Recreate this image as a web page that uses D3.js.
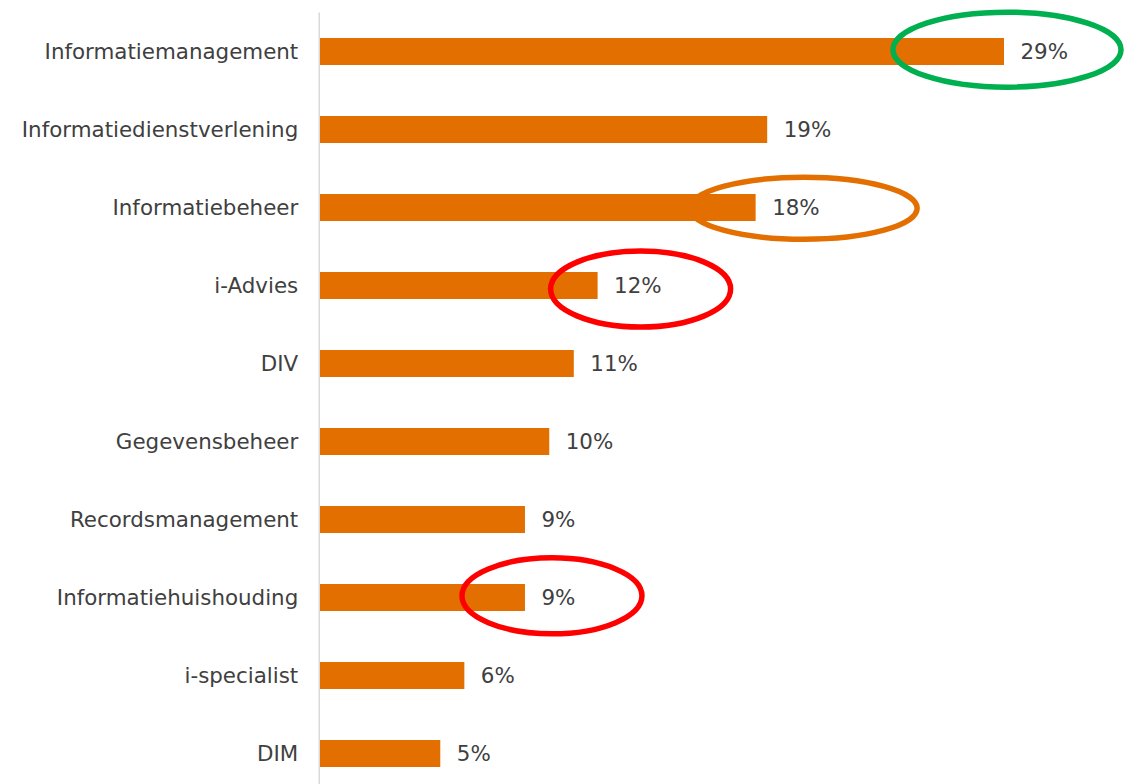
<!DOCTYPE html>
<html>
<head>
<meta charset="utf-8">
<script src="https://cdn.jsdelivr.net/npm/d3@7"></script>
<style>
  body { margin: 0; background: #fff; }
  svg { display: block; }
</style>
</head>
<body>
<div id="graph"></div>
<script>
// Data
const categories = [
  "Informatiemanagement",
  "Informatiedienstverlening",
  "Informatiebeheer",
  "i-Advies",
  "DIV",
  "Gegevensbeheer",
  "Recordsmanagement",
  "Informatiehuishouding",
  "i-specialist",
  "DIM"
]
const values = [29.0, 18.96, 18.47, 11.77, 10.76, 9.72, 8.69, 8.69, 6.12, 5.10]

// Highlighted categories (circled in the original)
const highlighted = ["Informatiemanagement", "Informatiebeheer", "i-Advies", "Informatiehuishouding"]

const dimensions = { width: 1125, height: 784 }
const margin = { left: 320, top: 12.5, bottom: -8.5 }

const data = categories.map((c, i) => ({ cat: c, value: values[i] }))

const svg = d3.select("#graph")
  .append("svg")
    .attr("width", dimensions.width)
    .attr("height", dimensions.height)

// Escalas
const xScale = d3.scaleLinear()
  .domain([0, 29])
  .range([margin.left, 1004])

const yScale = d3.scaleBand()
  .domain(categories)
  .range([margin.top, dimensions.height - margin.bottom])
  .paddingInner(0.654)
  .paddingOuter(0.327)

const fmt = v => d3.format(".0f")(v) + "%"
const fontSize = 21.4

// Barras
svg.append("g")
  .selectAll("rect")
  .data(data)
  .join("rect")
    .attr("x", xScale(0))
    .attr("y", d => yScale(d.cat))
    .attr("width", d => xScale(d.value) - xScale(0))
    .attr("height", yScale.bandwidth())
    .attr("fill", "#e36f00")

// Eje vertical (solo la línea, sin ticks)
const yAxis = g => g
  .attr("transform", `translate(${xScale(0) - 0.75},0)`)
  .call(d3.axisLeft(yScale).tickSize(0).tickPadding(21))
  .call(g => g.select(".domain")
    .attr("stroke", "#d9d9d9")
    .attr("stroke-width", 1.5)
    .attr("d", `M0,${margin.top}V${dimensions.height}`))
  .call(g => g.selectAll("text")
    .attr("fill", "#404040")
    .attr("dy", "0.37em")
    .attr("font-size", fontSize)
    .attr("font-family", "Verdana, 'DejaVu Sans', sans-serif"))

svg.append("g").call(yAxis)

// Etiquetas de valor
svg.append("g")
  .selectAll("text")
  .data(data)
  .join("text")
    .attr("x", d => xScale(d.value) + 16.5)
    .attr("y", d => yScale(d.cat) + yScale.bandwidth() / 2)
    .attr("dy", "0.37em")
    .attr("fill", "#404040")
    .attr("font-size", fontSize)
    .attr("font-family", "Verdana, 'DejaVu Sans', sans-serif")
    .text(d => fmt(d.value))

// Elipses de anotación
const ringStyle = {
  "Informatiemanagement": { color: "#00b050", dx: 3, dy: -1.8, rx: 114, ry: 37.5 },
  "Informatiebeheer": { color: "#e36f00", dx: 48, dy: 0.8, rx: 113.5, ry: 31 },
  "i-Advies": { color: "#ff0000", dx: 43, dy: 3.5, rx: 90, ry: 38 },
  "Informatiehuishouding": { color: "#ff0000", dx: 27, dy: -1.7, rx: 90, ry: 38 }
}

svg.append("g")
  .selectAll("ellipse")
  .data(data.filter(d => highlighted.includes(d.cat)))
  .join("ellipse")
    .attr("cx", d => xScale(d.value) + ringStyle[d.cat].dx)
    .attr("cy", d => yScale(d.cat) + yScale.bandwidth() / 2 + ringStyle[d.cat].dy)
    .attr("rx", d => ringStyle[d.cat].rx)
    .attr("ry", d => ringStyle[d.cat].ry)
    .attr("fill", "none")
    .attr("stroke", d => ringStyle[d.cat].color)
    .attr("stroke-width", 5.5)
</script>
</body>
</html>
